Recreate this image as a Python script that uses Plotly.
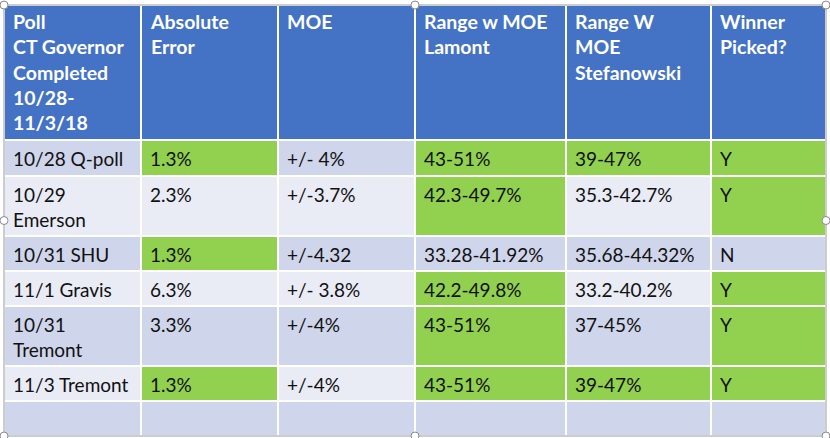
import plotly.graph_objects as go

# table content
headers = ['Poll<br>CT Governor<br>Completed<br>10/28-<br>11/3/18', 'Absolute<br>Error', 'MOE',
           'Range w MOE<br>Lamont', 'Range W<br>MOE<br>Stefanowski', 'Winner<br>Picked?']
polls = ['10/28 Q-poll', '10/29<br>Emerson', '10/31 SHU', '11/1 Gravis', '10/31<br>Tremont', '11/3 Tremont', '']
abs_error = ['1.3%', '2.3%', '1.3%', '6.3%', '3.3%', '1.3%', '']
moe = ['+/- 4%', '+/-3.7%', '+/-4.32', '+/- 3.8%', '+/-4%', '+/-4%', '']
range_lamont = ['43-51%', '42.3-49.7%', '33.28-41.92%', '42.2-49.8%', '43-51%', '43-51%', '']
range_stef = ['39-47%', '35.3-42.7%', '35.68-44.32%', '33.2-40.2%', '37-45%', '39-47%', '']
winner = ['Y', 'Y', 'N', 'Y', 'Y', 'Y', '']

# which cells are highlighted green (per column)
green_poll = [0, 0, 0, 0, 0, 0, 0]
green_abs = [1, 0, 1, 0, 0, 1, 0]
green_moe = [0, 0, 0, 0, 0, 0, 0]
green_lamont = [1, 1, 0, 1, 1, 1, 0]
green_stef = [1, 0, 0, 0, 0, 1, 0]
green_winner = [1, 1, 0, 1, 1, 1, 0]

# layout of the grid in pixels
col_edges = [4, 141, 278, 415, 566, 711, 826]
row_edges = [5, 140, 176, 236, 271, 306, 366, 401, 436]

BLUE = '#4472C4'
DARK = '#CFD5EA'
LIGHT = '#E9EBF5'
GREEN = '#92D050'

columns = [polls, abs_error, moe, range_lamont, range_stef, winner]
greens = [green_poll, green_abs, green_moe, green_lamont, green_stef, green_winner]

# z codes: 0 header, 1 dark band, 2 light band, 3 green
z = [[0] * len(columns)]
for r in range(len(polls)):
    band = 1 if r % 2 == 0 else 2
    z.append([3 if g[r] else band for g in greens])

colorscale = [[0, BLUE], [1 / 6, BLUE], [1 / 6, DARK], [0.5, DARK],
              [0.5, LIGHT], [5 / 6, LIGHT], [5 / 6, GREEN], [1, GREEN]]

fig = go.Figure()
fig.add_trace(go.Heatmap(
    x=col_edges, y=row_edges, z=z,
    zmin=0, zmax=3, colorscale=colorscale, showscale=False,
    xgap=2, ygap=2, hoverinfo='skip'
))

# header text
for c, h in enumerate(headers):
    fig.add_annotation(
        x=col_edges[c] + 7, y=row_edges[0] + 3, text=h,
        xref='x', yref='y', xanchor='left', yanchor='top', align='left',
        showarrow=False, font=dict(family='Lato', size=19.5, color='white', weight='bold')
    )
# body text
for c, col in enumerate(columns):
    for r, val in enumerate(col):
        if not val:
            continue
        fig.add_annotation(
            x=col_edges[c] + 7, y=row_edges[r + 1] + 5, text=val,
            xref='x', yref='y', xanchor='left', yanchor='top', align='left',
            showarrow=False, font=dict(family='Lato', size=19, color='#111111')
        )

# outer frame and selection handles
fig.add_shape(type='rect', x0=col_edges[0], x1=col_edges[-1], y0=row_edges[0], y1=row_edges[-1],
              line=dict(color='#9a9a9a', width=1), layer='above')
xm = (col_edges[0] + col_edges[-1]) / 2
ym = (row_edges[0] + row_edges[-1]) / 2
for hx, hy in [(col_edges[0], row_edges[0]), (xm, row_edges[0]), (col_edges[-1], row_edges[0]),
               (col_edges[0], ym), (col_edges[-1], ym),
               (col_edges[0], row_edges[-1]), (xm, row_edges[-1]), (col_edges[-1], row_edges[-1])]:
    fig.add_shape(type='circle', x0=hx - 4, x1=hx + 4, y0=hy - 4, y1=hy + 4,
                  line=dict(color='#8a8a8a', width=1), fillcolor='white', layer='above')

fig.update_layout(
    width=830, height=438,
    margin=dict(l=0, r=0, t=0, b=0),
    plot_bgcolor='white', paper_bgcolor='white',
    xaxis=dict(range=[0, 830], visible=False, fixedrange=True),
    yaxis=dict(range=[438, 0], visible=False, fixedrange=True),
    showlegend=False
)
fig.write_html('out.html', config={'displayModeBar': False},
               post_script="document.body.style.margin='0';")
